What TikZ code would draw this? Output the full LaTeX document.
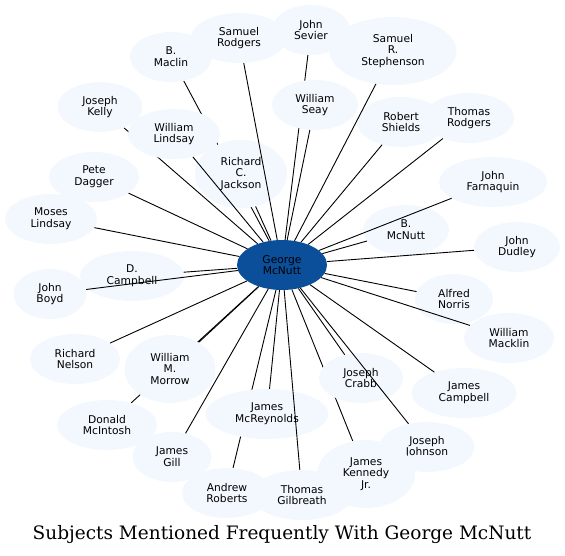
\documentclass[tikz,border=0pt]{standalone}
\usepackage{fontspec}
\usetikzlibrary{shapes.geometric}
\newfontfamily\nodefont{DejaVu Sans}
\newfontfamily\titlefont{DejaVu Serif}
\definecolor{nodefill}{HTML}{F3F8FE}
\definecolor{centerfill}{HTML}{0B4F9B}
\pgfdeclarelayer{bg}
\pgfsetlayers{bg,main}
\begin{document}
\begin{tikzpicture}[x=1pt,y=-1pt,
  nd/.style={ellipse, fill=nodefill, draw=none, inner sep=0pt, align=center,
    font={\nodefont\fontsize{10.7}{11.7}\selectfont}},
  e2/.style={nd, minimum height=50pt},
  e3/.style={nd, minimum height=68pt},
  hub/.style={nd, fill=centerfill, minimum height=50pt, minimum width=90pt},
  edge/.style={draw=black, line width=0.9pt}]
\useasboundingbox (0,0) rectangle (565,556);
% hub
\node[hub] (gm) at (282,265) {George\\McNutt};
% outer nodes
\node[e2, minimum width=96pt]  (sr)  at (239,38)  {Samuel\\Rodgers};
\node[e2, minimum width=82pt]  (bm)  at (171,57)  {B.\\Maclin};
\node[e2, minimum width=78pt]  (js)  at (311,30)  {John\\Sevier};
\node[e3, minimum width=127pt] (srs) at (393,51)  {Samuel\\R.\\Stephenson};
\node[e2, minimum width=85pt]  (jk)  at (100,107) {Joseph\\Kelly};
\node[e2, minimum width=92pt]  (wl)  at (174,134) {William\\Lindsay};
\node[e2, minimum width=86pt]  (ws)  at (315,105) {William\\Seay};
\node[e2, minimum width=88pt]  (rs)  at (401,122) {Robert\\Shields};
\node[e2, minimum width=90pt]  (tr)  at (469,118) {Thomas\\Rodgers};
\node[e3, minimum width=92pt]  (rcj) at (241,174) {Richard\\C.\\Jackson};
\node[e2, minimum width=90pt]  (pd)  at (94,177)  {Pete\\Dagger};
\node[e2, minimum width=108pt] (jf)  at (493,182) {John\\Farnaquin};
\node[e2, minimum width=92pt]  (ml)  at (51,219)  {Moses\\Lindsay};
\node[e2, minimum width=86pt]  (bmc) at (406,230) {B.\\McNutt};
\node[e2, minimum width=86pt]  (jd)  at (517,247) {John\\Dudley};
\node[e2, minimum width=104pt] (dc)  at (132,276) {D.\\Campbell};
\node[e2, minimum width=73pt]  (jb)  at (50,294)  {John\\Boyd};
\node[e2, minimum width=78pt]  (an)  at (454,299) {Alfred\\Norris};
\node[e2, minimum width=90pt]  (wm)  at (509,338) {William\\Macklin};
\node[e2, minimum width=90pt]  (rn)  at (75,359)  {Richard\\Nelson};
\node[e3, minimum width=91pt]  (wmm) at (170,369) {William\\M.\\Morrow};
\node[e2, minimum width=84pt]  (jc)  at (361,378) {Joseph\\Crabb};
\node[e2, minimum width=105pt] (jca) at (464,393) {James\\Campbell};
\node[e2, minimum width=100pt] (dm)  at (107,425) {Donald\\McIntosh};
\node[e2, minimum width=123pt] (jmr) at (267,414) {James\\McReynolds};
\node[e2, minimum width=79pt]  (jg)  at (172,457) {James\\Gill};
\node[e2, minimum width=95pt]  (jj)  at (427,447) {Joseph\\Johnson};
\node[e3, minimum width=98pt]  (jkj) at (366,474) {James\\Kennedy\\Jr.};
\node[e2, minimum width=90pt]  (ar)  at (227,493) {Andrew\\Roberts};
\node[e2, minimum width=102pt] (tg)  at (302,495) {Thomas\\Gilbreath};
% edges hidden behind other nodes
\begin{pgfonlayer}{bg}
\draw[edge] (gm) -- (jk);
\draw[edge] (gm) -- (bm);
\draw[edge] (gm) -- (js);
\draw[edge] (gm) -- (jkj);
\draw[edge] (gm) -- (dm);
\draw[edge] (gm) -- (ar);
\end{pgfonlayer}
% other edges
\foreach \t in {sr,srs,wl,ws,rs,tr,rcj,pd,jf,ml,bmc,jd,dc,jb,an,wm,rn,wmm,jc,jca,jmr,jg,jj,tg}
  \draw[edge] (gm) -- (\t);
\node[font={\titlefont\fontsize{18.5}{18.5}\selectfont}] (title) at (282,535) {Subjects Mentioned Frequently With George McNutt};
\end{tikzpicture}
\end{document}
